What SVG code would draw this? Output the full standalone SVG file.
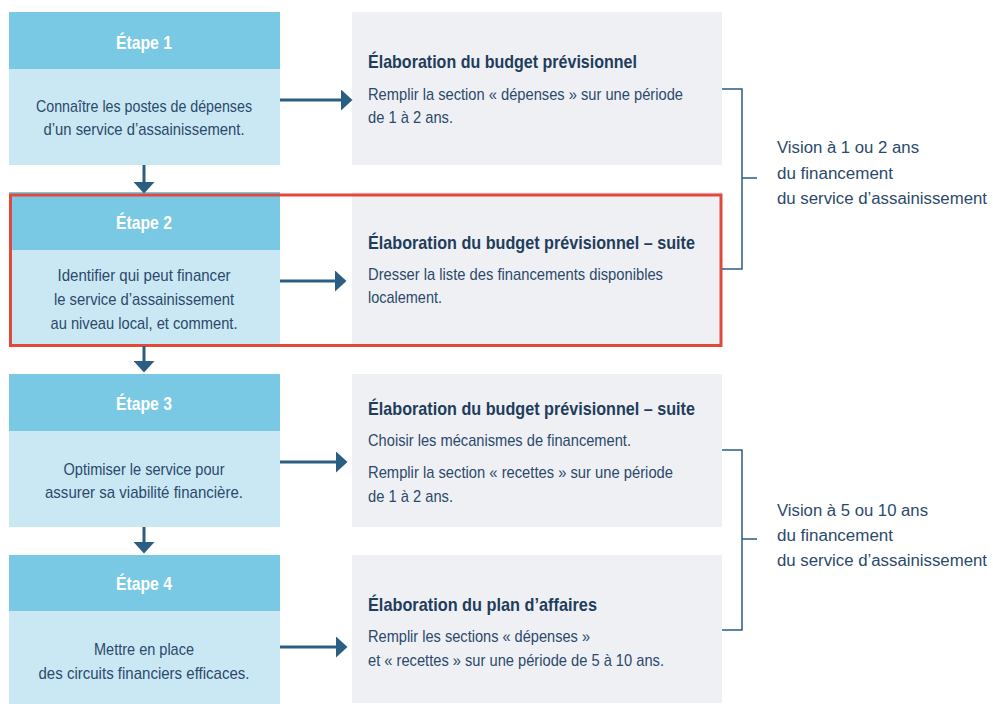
<svg xmlns="http://www.w3.org/2000/svg" width="993" height="704" viewBox="0 0 993 704">
<defs>
<style>
.hd{fill:#79C9E4}
.bd{fill:#C9E8F3}
.gr{fill:#EFF0F4}
text{font-family:"Liberation Sans",Arial,sans-serif}
.h{font-size:19px;font-weight:bold;fill:#FFFFFF;text-anchor:middle}
.b{font-size:17px;fill:#2B4A6B;text-anchor:middle}
.t{font-size:19px;font-weight:bold;fill:#1F3D5C}
.r{font-size:17px;fill:#2B4A6B}
.v{font-size:16px;fill:#2B4A6B}
.ln{stroke:#2A5E82;stroke-width:3;fill:none}
.br{stroke:#2A5E82;stroke-width:1.5;fill:none}
</style>
<marker id="ah" markerUnits="userSpaceOnUse" markerWidth="12" markerHeight="21" refX="0" refY="10.5" orient="auto" viewBox="0 0 12 21">
<path d="M0,0 L11.5,10.5 L0,21 Z" fill="#2A5E82"/>
</marker>
</defs>
<rect width="993" height="704" fill="#FFFFFF"/>

<g id="etape1">
<rect class="hd" x="9" y="12" width="271" height="57"/>
<rect class="bd" x="9" y="69" width="271" height="96"/>
<text class="h" x="144" y="49" textLength="56" lengthAdjust="spacingAndGlyphs">Étape 1</text>
<text class="b" x="144" y="112" textLength="216" lengthAdjust="spacingAndGlyphs">Connaître les postes de dépenses</text>
<text class="b" x="144" y="135" textLength="201" lengthAdjust="spacingAndGlyphs">d’un service d’assainissement.</text>
</g>

<g id="etape2">
<rect class="hd" x="9" y="192" width="271" height="58"/>
<rect class="bd" x="9" y="250" width="271" height="96"/>
<text class="h" x="144" y="229" textLength="56" lengthAdjust="spacingAndGlyphs">Étape 2</text>
<text class="b" x="144" y="281" textLength="173" lengthAdjust="spacingAndGlyphs">Identifier qui peut financer</text>
<text class="b" x="144" y="305" textLength="180" lengthAdjust="spacingAndGlyphs">le service d’assainissement</text>
<text class="b" x="144" y="329" textLength="187" lengthAdjust="spacingAndGlyphs">au niveau local, et comment.</text>
</g>

<g id="etape3">
<rect class="hd" x="9" y="374" width="271" height="57"/>
<rect class="bd" x="9" y="431" width="271" height="96"/>
<text class="h" x="144" y="410" textLength="56" lengthAdjust="spacingAndGlyphs">Étape 3</text>
<text class="b" x="144" y="475" textLength="161" lengthAdjust="spacingAndGlyphs">Optimiser le service pour</text>
<text class="b" x="144" y="498" textLength="198" lengthAdjust="spacingAndGlyphs">assurer sa viabilité financière.</text>
</g>

<g id="etape4">
<rect class="hd" x="9" y="555" width="271" height="56"/>
<rect class="bd" x="9" y="611" width="271" height="93"/>
<text class="h" x="144" y="590" textLength="56" lengthAdjust="spacingAndGlyphs">Étape 4</text>
<text class="b" x="144" y="655" textLength="100" lengthAdjust="spacingAndGlyphs">Mettre en place</text>
<text class="b" x="144" y="679" textLength="211" lengthAdjust="spacingAndGlyphs">des circuits financiers efficaces.</text>
</g>

<g id="budget1">
<rect class="gr" x="352" y="12" width="370" height="153"/>
<text class="t" x="368" y="68" textLength="269" lengthAdjust="spacingAndGlyphs">Élaboration du budget prévisionnel</text>
<text class="r" x="368" y="100" textLength="315" lengthAdjust="spacingAndGlyphs">Remplir la section « dépenses » sur une période</text>
<text class="r" x="368" y="123" textLength="85" lengthAdjust="spacingAndGlyphs">de 1 à 2 ans.</text>
</g>

<g id="budget2">
<rect class="gr" x="352" y="192" width="370" height="154"/>
<text class="t" x="368" y="249" textLength="327" lengthAdjust="spacingAndGlyphs">Élaboration du budget prévisionnel – suite</text>
<text class="r" x="368" y="280" textLength="295" lengthAdjust="spacingAndGlyphs">Dresser la liste des financements disponibles</text>
<text class="r" x="368" y="303" textLength="74" lengthAdjust="spacingAndGlyphs">localement.</text>
</g>

<g id="budget3">
<rect class="gr" x="352" y="374" width="370" height="153"/>
<text class="t" x="368" y="415" textLength="327" lengthAdjust="spacingAndGlyphs">Élaboration du budget prévisionnel – suite</text>
<text class="r" x="368" y="446" textLength="263" lengthAdjust="spacingAndGlyphs">Choisir les mécanismes de financement.</text>
<text class="r" x="368" y="478" textLength="305" lengthAdjust="spacingAndGlyphs">Remplir la section « recettes » sur une période</text>
<text class="r" x="368" y="502" textLength="85" lengthAdjust="spacingAndGlyphs">de 1 à 2 ans.</text>
</g>

<g id="plan">
<rect class="gr" x="352" y="555" width="370" height="148"/>
<text class="t" x="368" y="611" textLength="229" lengthAdjust="spacingAndGlyphs">Élaboration du plan d’affaires</text>
<text class="r" x="368" y="642" textLength="222" lengthAdjust="spacingAndGlyphs">Remplir les sections « dépenses »</text>
<text class="r" x="368" y="666" textLength="296" lengthAdjust="spacingAndGlyphs">et « recettes » sur une période de 5 à 10 ans.</text>
</g>

<g id="highlight">
<rect x="10.5" y="195" width="710.5" height="150.5" fill="none" stroke="#E3493B" stroke-width="3"/>
</g>

<g id="vision1">
<text class="v" x="777" y="153" textLength="142" lengthAdjust="spacingAndGlyphs">Vision à 1 ou 2 ans</text>
<text class="v" x="777" y="179" textLength="116" lengthAdjust="spacingAndGlyphs">du financement</text>
<text class="v" x="777" y="204" textLength="210" lengthAdjust="spacingAndGlyphs">du service d’assainissement</text>
</g>

<g id="vision2">
<text class="v" x="777" y="516" textLength="151" lengthAdjust="spacingAndGlyphs">Vision à 5 ou 10 ans</text>
<text class="v" x="777" y="541" textLength="116" lengthAdjust="spacingAndGlyphs">du financement</text>
<text class="v" x="777" y="566" textLength="210" lengthAdjust="spacingAndGlyphs">du service d’assainissement</text>
</g>

<g id="connectors">
<line class="ln" x1="280" y1="100" x2="341" y2="100" marker-end="url(#ah)"/>
<line class="ln" x1="280" y1="281" x2="335" y2="281" marker-end="url(#ah)"/>
<line class="ln" x1="280" y1="462" x2="336" y2="462" marker-end="url(#ah)"/>
<line class="ln" x1="280" y1="647" x2="336" y2="647" marker-end="url(#ah)"/>
<line class="ln" x1="144" y1="165" x2="144" y2="182" marker-end="url(#ah)"/>
<line class="ln" x1="144" y1="346" x2="144" y2="361" marker-end="url(#ah)"/>
<line class="ln" x1="144" y1="527" x2="144" y2="542" marker-end="url(#ah)"/>
<path class="br" d="M722,89 H742 V269 H722 M742,178 H757"/>
<path class="br" d="M722,450 H742 V630 H722 M742,539 H757"/>
</g>
</svg>
